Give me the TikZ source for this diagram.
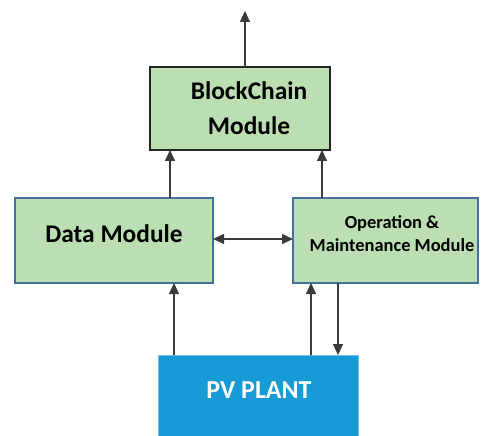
\documentclass[tikz,border=0pt]{standalone}
\usepackage{fontspec}
\setmainfont{Carlito}
\usetikzlibrary{arrows.meta}
\definecolor{boxgreen}{HTML}{BBDFB3}
\definecolor{boxedge}{HTML}{41719C}
\definecolor{pvblue}{HTML}{179BD7}
\definecolor{pvedge}{HTML}{6FC0E8}
\definecolor{linegray}{HTML}{3A3A3A}
\tikzset{
  x=1bp, y=-1bp,
  modbox/.style={draw=boxedge, fill=boxgreen, line width=1.2bp, inner sep=0pt},
  conn/.style={draw=linegray, line width=1.1bp, -{Triangle[length=11bp,width=10bp]}},
  dconn/.style={draw=linegray, line width=1.1bp, {Triangle[length=11bp,width=10bp]}-{Triangle[length=11bp,width=10bp]}},
}
\begin{document}
\begin{tikzpicture}
\useasboundingbox (0,0) rectangle (484,436);
% boxes
\path[modbox, draw=black!85] (150,67) rectangle (330,150);
\node[font=\bfseries\fontsize{25.5}{35}\selectfont, align=center] (bc) at (249,108) {BlockChain\\Module};
\path[modbox] (15,198) rectangle (213,283);
\node[font=\bfseries\fontsize{25.5}{30}\selectfont] (dm) at (114,234) {Data Module};
\path[modbox] (293,198) rectangle (478,283);
\node[font=\bfseries\fontsize{18.5}{23}\selectfont, align=center] (om) at (392,234) {Operation \&\\Maintenance Module};
\path[fill=pvblue, draw=pvedge, line width=1bp] (158,355) rectangle (358,440);
\node[font=\bfseries\fontsize{26}{30}\selectfont, text=white] (pv) at (259,390) {PV PLANT};
% anchor coordinates
\coordinate (bcTop) at (245,67);
\coordinate (out) at (245,11);
\coordinate (bcB1) at (170,150);
\coordinate (bcB2) at (322,150);
\coordinate (dmT) at (170,198);
\coordinate (omT) at (322,198);
\coordinate (dmR) at (213,239);
\coordinate (omL) at (293,239);
\coordinate (dmB) at (174,283);
\coordinate (pvT1) at (174,355);
\coordinate (omB1) at (311,283);
\coordinate (pvT2) at (311,355);
\coordinate (omB2) at (338,283);
\coordinate (pvT3) at (338,355);
% connectors
\draw[conn] (bcTop) -- (out);
\draw[conn] (dmT) -- (bcB1);
\draw[conn] (omT) -- (bcB2);
\draw[dconn] (dmR) -- (omL);
\draw[conn] (pvT1) -- (dmB);
\draw[conn] (pvT2) -- (omB1);
\draw[conn] (omB2) -- (pvT3);
\end{tikzpicture}
\end{document}
